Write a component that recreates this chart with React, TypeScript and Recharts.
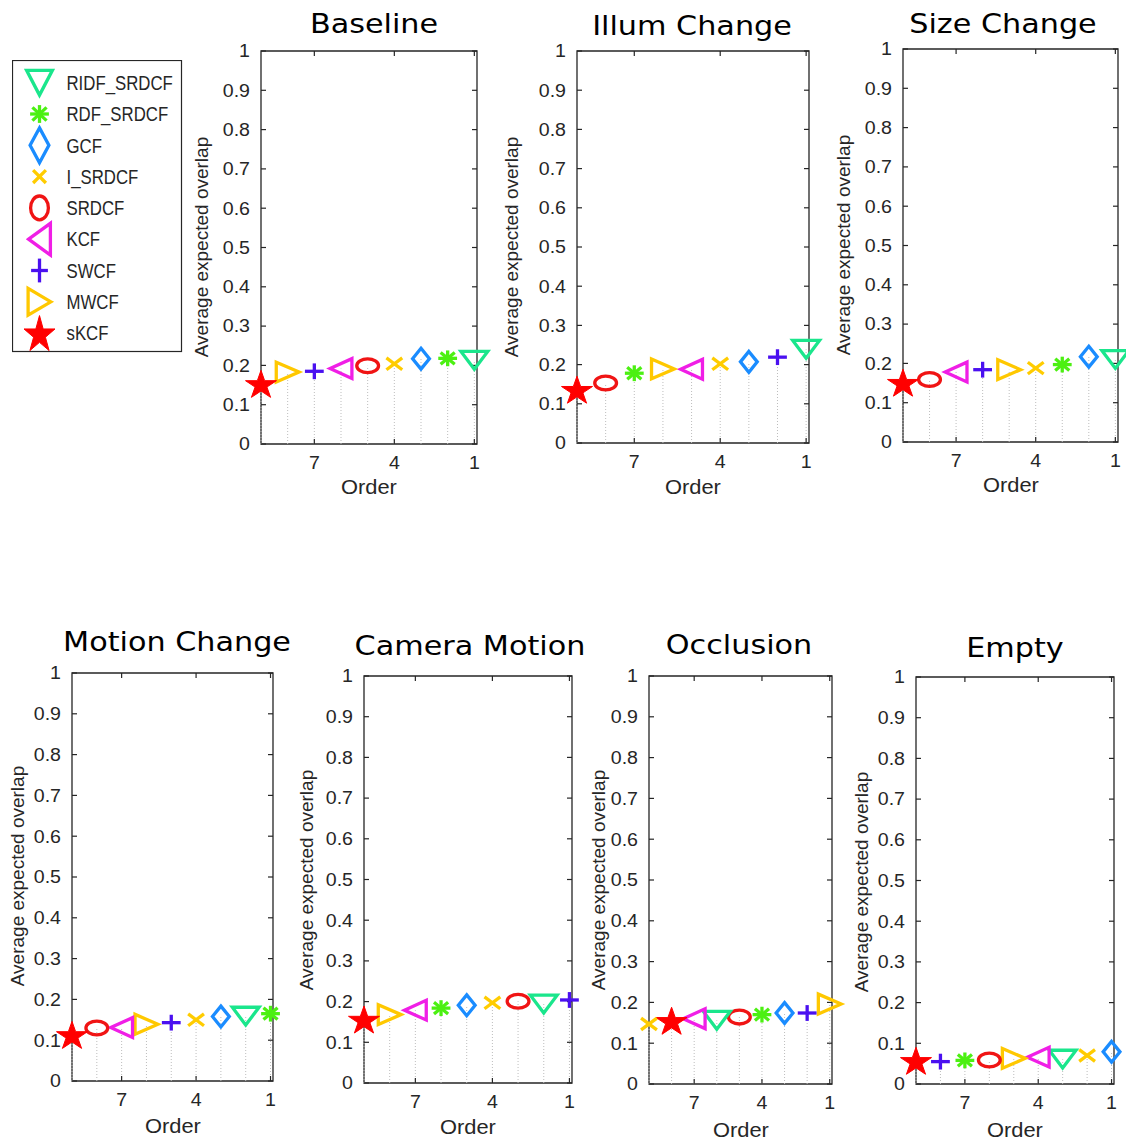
import React from 'react';
import { ScatterChart, Scatter, XAxis, YAxis, ReferenceLine, ReferenceArea } from 'recharts';

// trackers, in legend order
const trackers = ['RIDF_SRDCF', 'RDF_SRDCF', 'GCF', 'I_SRDCF', 'SRDCF', 'KCF', 'SWCF', 'MWCF', 'sKCF'];

// per attribute: tracker at order 1..9, and its average expected overlap
const baselineRank = ['RIDF_SRDCF', 'RDF_SRDCF', 'GCF', 'I_SRDCF', 'SRDCF', 'KCF', 'SWCF', 'MWCF', 'sKCF'];
const baselineEAO = [0.213, 0.218, 0.217, 0.204, 0.199, 0.192, 0.185, 0.183, 0.153];

const illumRank = ['RIDF_SRDCF', 'SWCF', 'GCF', 'I_SRDCF', 'KCF', 'MWCF', 'RDF_SRDCF', 'SRDCF', 'sKCF'];
const illumEAO = [0.239, 0.219, 0.207, 0.202, 0.188, 0.189, 0.178, 0.153, 0.136];

const sizeRank = ['RIDF_SRDCF', 'GCF', 'RDF_SRDCF', 'I_SRDCF', 'MWCF', 'SWCF', 'KCF', 'SRDCF', 'sKCF'];
const sizeEAO = [0.21, 0.217, 0.197, 0.188, 0.184, 0.184, 0.178, 0.159, 0.151];

const motionRank = ['RDF_SRDCF', 'RIDF_SRDCF', 'GCF', 'I_SRDCF', 'SWCF', 'MWCF', 'KCF', 'SRDCF', 'sKCF'];
const motionEAO = [0.165, 0.159, 0.158, 0.15, 0.143, 0.139, 0.131, 0.13, 0.113];

const cameraRank = ['SWCF', 'RIDF_SRDCF', 'SRDCF', 'I_SRDCF', 'GCF', 'RDF_SRDCF', 'KCF', 'MWCF', 'sKCF'];
const cameraEAO = [0.204, 0.194, 0.201, 0.197, 0.191, 0.184, 0.179, 0.168, 0.156];

const occlusionRank = ['MWCF', 'SWCF', 'GCF', 'RDF_SRDCF', 'SRDCF', 'RIDF_SRDCF', 'KCF', 'sKCF', 'I_SRDCF'];
const occlusionEAO = [0.196, 0.174, 0.174, 0.17, 0.164, 0.156, 0.16, 0.155, 0.147];

const emptyRank = ['GCF', 'I_SRDCF', 'RIDF_SRDCF', 'KCF', 'MWCF', 'SRDCF', 'RDF_SRDCF', 'SWCF', 'sKCF'];
const emptyEAO = [0.079, 0.07, 0.061, 0.066, 0.063, 0.059, 0.058, 0.055, 0.057];

const panelTitles = ['Baseline', 'Illum Change', 'Size Change', 'Motion Change', 'Camera Motion', 'Occlusion', 'Empty'];
const panelRanks = [baselineRank, illumRank, sizeRank, motionRank, cameraRank, occlusionRank, emptyRank];
const panelEAO = [baselineEAO, illumEAO, sizeEAO, motionEAO, cameraEAO, occlusionEAO, emptyEAO];

const yTicks = [0, 0.1, 0.2, 0.3, 0.4, 0.5, 0.6, 0.7, 0.8, 0.9, 1];
const xTicks = [7, 4, 1];
const X_MIN = 0.9;
const X_MAX = 9;

// plot boxes on the page: left, right, top (y=1), bottom (y=0), title centre, y label centre, "Order" centre y
const layout = [
  { x0: 261, x1: 477, yT: 51, yB: 444, tx: 374, ty: 24, lx: 202, ly: 247, oy: 487 },
  { x0: 577, x1: 809, yT: 51, yB: 443, tx: 692, ty: 26, lx: 512, ly: 247, oy: 487 },
  { x0: 903, x1: 1118, yT: 49, yB: 442, tx: 1003, ty: 23.5, lx: 844, ly: 245, oy: 485 },
  { x0: 72, x1: 273, yT: 673, yB: 1081, tx: 177, ty: 642, lx: 17.5, ly: 876, oy: 1126 },
  { x0: 364, x1: 572, yT: 676, yB: 1083, tx: 470, ty: 645.5, lx: 306.5, ly: 880, oy: 1127 },
  { x0: 649, x1: 832, yT: 676, yB: 1084, tx: 739, ty: 645, lx: 599, ly: 880, oy: 1130 },
  { x0: 916, x1: 1114, yT: 677, yB: 1084, tx: 1015, ty: 648, lx: 862, ly: 882, oy: 1130 },
];

const colors: Record<string, string> = {
  RIDF_SRDCF: '#1ae68c',
  RDF_SRDCF: '#4cf012',
  GCF: '#1a8cff',
  I_SRDCF: '#ffcc00',
  SRDCF: '#f01414',
  KCF: '#f01ee6',
  SWCF: '#4a10f0',
  MWCF: '#ffc800',
  sKCF: '#ff0000',
};

// [width, height] of each marker in the plots and in the legend
const plotSize: Record<string, number[]> = {
  RIDF_SRDCF: [30, 21], RDF_SRDCF: [22, 19], GCF: [20, 24], I_SRDCF: [19, 15], SRDCF: [25, 17],
  KCF: [25, 23], SWCF: [22, 19], MWCF: [26, 23], sKCF: [31, 27],
};
const legendSize: Record<string, number[]> = {
  RIDF_SRDCF: [29, 28], RDF_SRDCF: [22, 21], GCF: [22, 38], I_SRDCF: [16, 16], SRDCF: [21, 27],
  KCF: [25, 35], SWCF: [20, 27], MWCF: [26, 30], sKCF: [31, 35],
};

const AXIS = '#262626';
const SANS = "'Liberation Sans', Arial, sans-serif";
const STRETCH = 1.12;

const Marker = ({ name, cx, cy, size }: { name: string; cx: number; cy: number; size: number[] }) => {
  const c = colors[name];
  const a = size[0] / 2 - 1.6;
  const b = size[1] / 2 - 1.6;
  const sw = 3.3;
  const pts = (p: number[][]) => p.map((q) => `${cx + q[0]},${cy + q[1]}`).join(' ');
  switch (name) {
    case 'RIDF_SRDCF':
      return <polygon points={pts([[-a, -b], [a, -b], [0, b]])} fill="none" stroke={c} strokeWidth={sw} />;
    case 'KCF':
      return <polygon points={pts([[-a, 0], [a, -b], [a, b]])} fill="none" stroke={c} strokeWidth={sw} />;
    case 'MWCF':
      return <polygon points={pts([[a, 0], [-a, -b], [-a, b]])} fill="none" stroke={c} strokeWidth={sw} />;
    case 'GCF':
      return <polygon points={pts([[0, -b], [a, 0], [0, b], [-a, 0]])} fill="none" stroke={c} strokeWidth={sw} />;
    case 'SRDCF':
      return <ellipse cx={cx} cy={cy} rx={a} ry={b} fill="none" stroke={c} strokeWidth={sw} />;
    case 'SWCF':
      return (
        <g stroke={c} strokeWidth={sw}>
          <line x1={cx - a} y1={cy} x2={cx + a} y2={cy} />
          <line x1={cx} y1={cy - b} x2={cx} y2={cy + b} />
        </g>
      );
    case 'I_SRDCF':
      return (
        <g stroke={c} strokeWidth={sw}>
          <line x1={cx - a} y1={cy - b} x2={cx + a} y2={cy + b} />
          <line x1={cx - a} y1={cy + b} x2={cx + a} y2={cy - b} />
        </g>
      );
    case 'RDF_SRDCF':
      return (
        <g stroke={c} strokeWidth={sw}>
          <line x1={cx - a} y1={cy} x2={cx + a} y2={cy} />
          <line x1={cx} y1={cy - b} x2={cx} y2={cy + b} />
          <line x1={cx - a * 0.75} y1={cy - b * 0.75} x2={cx + a * 0.75} y2={cy + b * 0.75} />
          <line x1={cx - a * 0.75} y1={cy + b * 0.75} x2={cx + a * 0.75} y2={cy - b * 0.75} />
        </g>
      );
    default: {
      // filled five-pointed star
      const sx = (size[0] / 2) / Math.sin((72 * Math.PI) / 180);
      const sy = size[1] / 1.809;
      const p: number[][] = [];
      for (let i = 0; i < 10; i++) {
        const r = i % 2 === 0 ? 1 : 0.382;
        const t = (i * 36 * Math.PI) / 180;
        p.push([Math.sin(t) * r * sx, (-Math.cos(t) * r + 0.095) * sy]);
      }
      return <polygon points={pts(p)} fill={c} stroke={c} strokeWidth={1} />;
    }
  }
};

const fmt = (v: number) => String(Math.round(v * 10) / 10);

const YTick = (props: any) => {
  const { x, y, payload } = props;
  return (
    <text transform={`translate(${x},${y}) scale(${STRETCH},1)`} textAnchor="end" dy="0.36em" fontSize={17.5} fill={AXIS} fontFamily={SANS}>
      {fmt(payload.value)}
    </text>
  );
};

const XTick = (props: any) => {
  const { x, y, payload } = props;
  return (
    <text transform={`translate(${x},${y}) scale(${STRETCH},1)`} textAnchor="middle" dy="0.71em" fontSize={17.5} fill={AXIS} fontFamily={SANS}>
      {payload.value}
    </text>
  );
};

const ML = 60;
const MR = 26;
const MT = 20;
const MB = 40;

const Panel = ({ idx }: { idx: number }) => {
  const L = layout[idx];
  const rank = panelRanks[idx];
  const eao = panelEAO[idx];
  const pw = L.x1 - L.x0;
  const ph = L.yB - L.yT;
  const data = rank.map((name, i) => ({ order: i + 1, eao: eao[i], name }));
  const dx = (5 * (X_MAX - X_MIN)) / pw;
  const dy = 5 / ph;

  return (
    <>
      <div
        style={{
          position: 'absolute', left: L.tx - 150, top: L.ty - 15, width: 300, height: 30, lineHeight: '30px',
          textAlign: 'center', fontFamily: "'DejaVu Sans', sans-serif", fontSize: 27, color: '#000',
          transform: `scaleX(${STRETCH})`,
        }}
      >
        {panelTitles[idx]}
      </div>
      <div
        style={{
          position: 'absolute', left: L.lx - 150, top: L.ly - 12, width: 300, height: 24, lineHeight: '24px',
          textAlign: 'center', fontFamily: SANS, fontSize: 19, color: AXIS, transform: 'rotate(-90deg)',
        }}
      >
        Average expected overlap
      </div>
      <div
        style={{
          position: 'absolute', left: (L.x0 + L.x1) / 2 - 60, top: L.oy - 12, width: 120, height: 24, lineHeight: '24px',
          textAlign: 'center', fontFamily: SANS, fontSize: 19.5, color: AXIS, transform: `scaleX(${STRETCH})`,
        }}
      >
        Order
      </div>
      <div style={{ position: 'absolute', left: L.x0 - ML, top: L.yT - MT }}>
        <ScatterChart width={pw + ML + MR} height={ph + MT + MB} margin={{ top: MT, right: MR, bottom: 0, left: 0 }}>
          <XAxis
            dataKey="order" type="number" domain={[X_MIN, X_MAX]} reversed ticks={xTicks} interval={0}
            axisLine={false} tickLine={false} tickSize={0} tickMargin={13} height={MB} tick={<XTick />}
          />
          <YAxis
            dataKey="eao" type="number" domain={[0, 1]} ticks={yTicks} interval={0}
            axisLine={false} tickLine={false} tickSize={0} tickMargin={11} width={ML} tick={<YTick />}
          />
          {data.map((d) => (
            <ReferenceLine
              key={`stem-${d.order}`}
              segment={[{ x: d.order, y: 0 }, { x: d.order, y: d.eao }]}
              stroke="#bdbdbd" strokeWidth={1} strokeDasharray="1 2"
            />
          ))}
          <ReferenceArea x1={X_MIN} x2={X_MAX} y1={0} y2={1} fill="none" stroke={AXIS} strokeWidth={1.3} />
          {yTicks.map((t) => (
            <ReferenceLine key={`yl-${t}`} segment={[{ x: X_MAX, y: t }, { x: X_MAX - dx, y: t }]} stroke={AXIS} strokeWidth={1.2} />
          ))}
          {yTicks.map((t) => (
            <ReferenceLine key={`yr-${t}`} segment={[{ x: X_MIN, y: t }, { x: X_MIN + dx, y: t }]} stroke={AXIS} strokeWidth={1.2} />
          ))}
          {xTicks.map((t) => (
            <ReferenceLine key={`xb-${t}`} segment={[{ x: t, y: 0 }, { x: t, y: dy }]} stroke={AXIS} strokeWidth={1.2} />
          ))}
          {xTicks.map((t) => (
            <ReferenceLine key={`xt-${t}`} segment={[{ x: t, y: 1 }, { x: t, y: 1 - dy }]} stroke={AXIS} strokeWidth={1.2} />
          ))}
          <Scatter
            data={data}
            isAnimationActive={false}
            shape={(p: any) => {
              const name = (p.payload && p.payload.name) || p.name;
              return <Marker name={name} cx={p.cx} cy={p.cy} size={plotSize[name]} />;
            }}
          />
        </ScatterChart>
      </div>
    </>
  );
};

const TrackerLegend = () => (
  <svg style={{ position: 'absolute', left: 12, top: 60 }} width={171} height={293}>
    <rect x={0.5} y={0.5} width={169} height={291} fill="#fff" stroke={AXIS} strokeWidth={1.2} />
    {trackers.map((name, i) => {
      const cy = 22.7 + i * 31.3;
      return (
        <g key={name}>
          <Marker name={name} cx={27.5} cy={cy} size={legendSize[name]} />
          <text transform={`translate(54.5,${cy}) scale(0.84,1)`} dy="0.36em" fontSize={20} fill={AXIS} fontFamily={SANS}>
            {name}
          </text>
        </g>
      );
    })}
  </svg>
);

export default function App() {
  return (
    <div style={{ position: 'absolute', left: 0, top: 0, width: 1126, height: 1140, background: '#fff', overflow: 'hidden' }}>
      {panelTitles.map((_, i) => (
        <Panel key={i} idx={i} />
      ))}
      <TrackerLegend />
    </div>
  );
}
